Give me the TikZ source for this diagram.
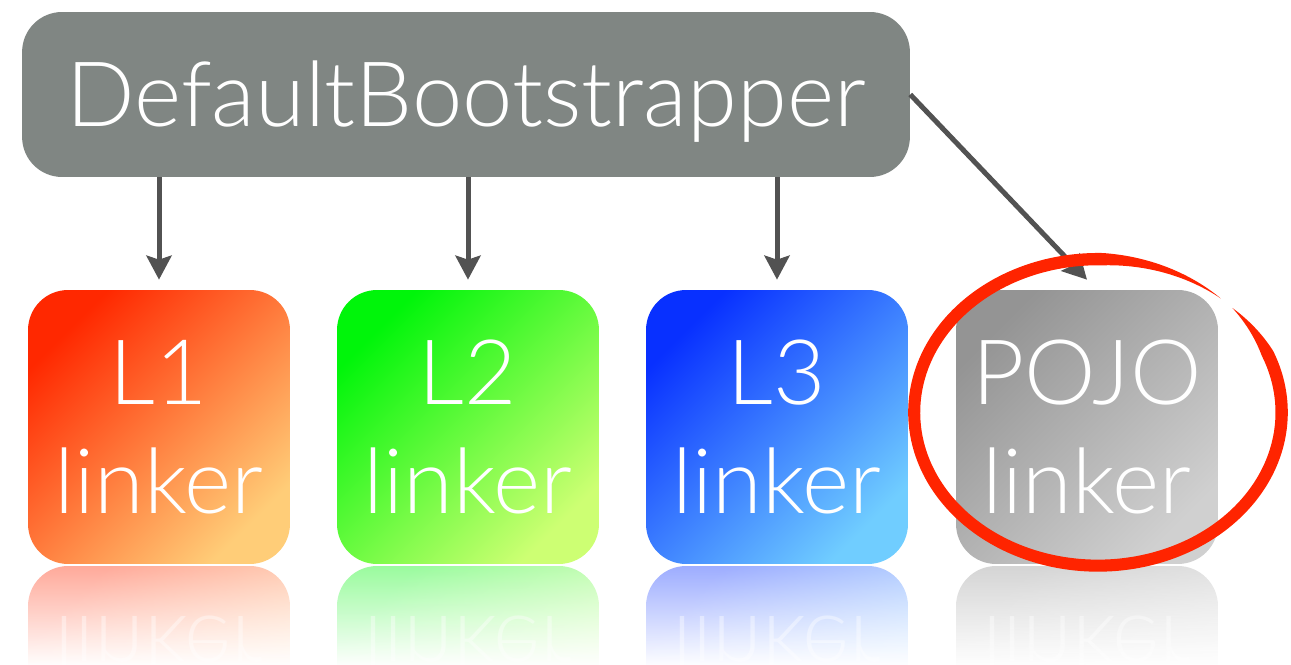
\documentclass[tikz,border=0pt]{standalone}
\usepackage{fontspec}
\IfFontExistsTF{Lato Light}{\setmainfont{Lato Light}}{\setmainfont{Lato}}
\usetikzlibrary{arrows.meta,fadings,calc}

\definecolor{topgray}{RGB}{128,134,131}
\definecolor{arrowgray}{RGB}{82,82,82}
\definecolor{brushred}{RGB}{255,36,0}
\definecolor{oneA}{RGB}{255,40,0}    \definecolor{oneB}{RGB}{255,205,120}
\definecolor{twoA}{RGB}{0,245,10}    \definecolor{twoB}{RGB}{205,255,115}
\definecolor{thrA}{RGB}{8,48,255}    \definecolor{thrB}{RGB}{112,205,255}
\definecolor{pojA}{RGB}{148,148,148} \definecolor{pojB}{RGB}{208,208,208}

\tikzset{
  bigfont/.style={font=\fontsize{51.4pt}{61.9pt}\selectfont},
  topbox/.style={fill=topgray, rounded corners=0.8cm, minimum width=17.76cm,
    minimum height=3.3cm, inner sep=0pt, text=white, bigfont,
    text depth=0pt, text height=36.9pt},
  linkbox/.style 2 args={rounded corners=0.8cm, minimum width=5.24cm,
    minimum height=5.48cm, inner sep=0pt, text=white, align=center, bigfont,
    left color=#1, right color=#2, shading angle=45},
  conn/.style={draw=arrowgray, line width=0.1cm,
    -{Stealth[length=0.48cm,width=0.5cm,inset=0.08cm]}},
  fadecover/.style={fill=white, path fading=north},
}

% one coloured linker box, its mirrored reflection and the fade below it
\newcommand\linkerbox[5]{%
  \node[linkbox={#4}{#5}] (#1) at (#2,238) {#3\\linker};
  \begin{scope}[shift={(0,200)}, yscale=-1, transform shape]
    \node[linkbox={#4}{#5}, opacity=0.4] (#1r) at (#2,238) {#3\\linker};
  \end{scope}
  \fill[fadecover] (#2-133,-2) rectangle (#2+133,100);
}

\begin{document}
\begin{tikzpicture}[x=0.02cm,y=0.02cm]
  \useasboundingbox (0,0) rectangle (1291,665);

  \node[topbox] (top) at (466,570.5) {DefaultBootstrapper};

  \linkerbox{l1}{159}{L1}{oneA}{oneB}
  \linkerbox{l2}{468}{L2}{twoA}{twoB}
  \linkerbox{l3}{777}{L3}{thrA}{thrB}
  \linkerbox{pojo}{1087}{POJO}{pojA}{pojB}

  \draw[conn] (top.south -| l1.north) -- ([yshift=0.2cm]l1.north);
  \draw[conn] (top.south -| l2.north) -- ([yshift=0.2cm]l2.north);
  \draw[conn] (top.south -| l3.north) -- ([yshift=0.2cm]l3.north);
  \draw[conn] (top.east) -- ([yshift=0.2cm]pojo.north);

  % hand-drawn brush ellipse round the POJO linker, tapering at both ends
  \fill[brushred]
    plot[domain=-312:43, samples=300, variable=\t]
      ({1096+(1+0.03*(1+cos(\t-45))/2)*(181+6*min(1,(43-\t)/20,(\t+312)/40))*cos(\t)},
       {251+(1+0.03*(1+cos(\t-45))/2)*(151+6*min(1,(43-\t)/20,(\t+312)/40))*sin(\t)})
    -- plot[domain=43:-312, samples=300, variable=\t]
      ({1096+(1+0.03*(1+cos(\t-45))/2)*(181-6*min(1,(43-\t)/20,(\t+312)/40))*cos(\t)},
       {251+(1+0.03*(1+cos(\t-45))/2)*(151-6*min(1,(43-\t)/20,(\t+312)/40))*sin(\t)})
    -- cycle;
\end{tikzpicture}
\end{document}
